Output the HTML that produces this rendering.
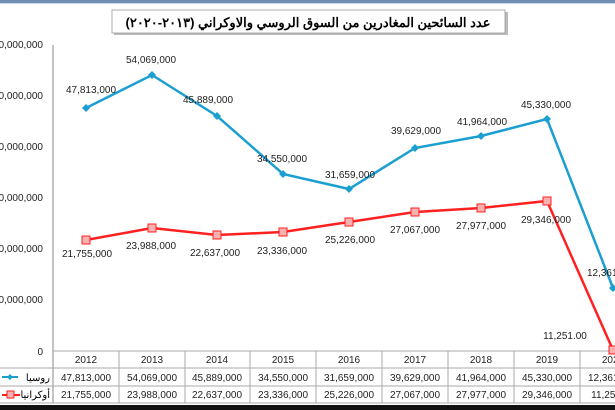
<!DOCTYPE html>
<html><head><meta charset="utf-8"><style>
body{margin:0;background:#fff}
svg{display:block;font-family:"Liberation Sans","Noto Sans CJK SC",sans-serif}
</style></head><body>
<svg width="615" height="410" viewBox="0 0 615 410" xmlns="http://www.w3.org/2000/svg">
<rect width="615" height="410" fill="#fff"/>
<rect x="0" y="0" width="615" height="3" fill="#6f8fb0"/>
<rect x="0" y="3" width="615" height="1" fill="#c8d6e6"/>
<rect x="114" y="12" width="394" height="23" fill="#bbb"/>
<rect x="112" y="10" width="393" height="23" fill="#fff" stroke="#999" stroke-width="0.8"/>
<text x="308" y="27" font-size="13" font-weight="bold" text-anchor="middle" direction="rtl">عدد السائحين المغادرين من السوق الروسي والاوكراني (٢٠١٣-٢٠٢٠)</text>
<g font-size="10" fill="#222" text-anchor="end">
<text x="43" y="48">60,000,000</text>
<text x="43" y="99">50,000,000</text>
<text x="43" y="150">40,000,000</text>
<text x="43" y="201">30,000,000</text>
<text x="43" y="252">20,000,000</text>
<text x="43" y="303">10,000,000</text>
<text x="43" y="355">0</text>
</g>
<line x1="53" y1="45" x2="53" y2="403" stroke="#888" stroke-width="1"/>
<g stroke="#aaa" stroke-width="1">
<line x1="53" y1="351" x2="615" y2="351"/>
<line x1="0" y1="368" x2="615" y2="368"/>
<line x1="0" y1="386" x2="615" y2="386"/>
<line x1="0" y1="403" x2="615" y2="403"/>
<line x1="119" y1="351" x2="119" y2="403"/><line x1="185" y1="351" x2="185" y2="403"/>
<line x1="250" y1="351" x2="250" y2="403"/><line x1="316" y1="351" x2="316" y2="403"/>
<line x1="382" y1="351" x2="382" y2="403"/><line x1="448" y1="351" x2="448" y2="403"/>
<line x1="514" y1="351" x2="514" y2="403"/><line x1="580" y1="351" x2="580" y2="403"/>
</g>
<rect x="0" y="405" width="615" height="5" fill="#111"/>
<g font-size="10" fill="#222" text-anchor="middle">
<text x="86" y="363">2012</text><text x="152" y="363">2013</text><text x="217" y="363">2014</text><text x="283" y="363">2015</text><text x="349" y="363">2016</text><text x="415" y="363">2017</text><text x="481" y="363">2018</text><text x="547" y="363">2019</text><text x="613" y="363">2020</text>
<text x="86" y="381">47,813,000</text><text x="152" y="381">54,069,000</text><text x="217" y="381">45,889,000</text><text x="283" y="381">34,550,000</text><text x="349" y="381">31,659,000</text><text x="415" y="381">39,629,000</text><text x="481" y="381">41,964,000</text><text x="547" y="381">45,330,000</text><text x="613" y="381">12,361,000</text>
<text x="86" y="398">21,755,000</text><text x="152" y="398">23,988,000</text><text x="217" y="398">22,637,000</text><text x="283" y="398">23,336,000</text><text x="349" y="398">25,226,000</text><text x="415" y="398">27,067,000</text><text x="481" y="398">27,977,000</text><text x="547" y="398">29,346,000</text><text x="613" y="398">11,251.00</text>
</g>
<line x1="2" y1="377" x2="18" y2="377" stroke="#1a9fd0" stroke-width="2"/>
<polygon points="10,374 13,377 10,380 7,377" fill="#1a9fd0"/>
<text x="50" y="381" font-size="10" text-anchor="start" direction="rtl">روسيا</text>
<line x1="2" y1="395" x2="20" y2="395" stroke="#ff2020" stroke-width="2"/>
<rect x="7" y="391" width="7" height="7" fill="#f9b0b0" stroke="#ff2020"/>
<text x="50" y="398" font-size="10" text-anchor="start" direction="rtl">أوكرانيا</text>
<polyline fill="none" stroke="#1a9fd0" stroke-width="2.5" points="86,108 152,75 217,116 283,174 349,189 415,148 481,136 547,119 613,288"/>
<g fill="#1a9fd0">
<polygon points="86,104 90,108 86,112 82,108"/><polygon points="152,71 156,75 152,79 148,75"/><polygon points="217,112 221,116 217,120 213,116"/><polygon points="283,170 287,174 283,178 279,174"/><polygon points="349,185 353,189 349,193 345,189"/><polygon points="415,144 419,148 415,152 411,148"/><polygon points="481,132 485,136 481,140 477,136"/><polygon points="547,115 551,119 547,123 543,119"/><polygon points="613,284 617,288 613,292 609,288"/>
</g>
<polyline fill="none" stroke="#ff2020" stroke-width="2.5" points="86,240 152,228 217,235 283,232 349,222 415,212 481,208 547,201 613,350"/>
<g fill="#f9b0b0" stroke="#ff2020" stroke-width="1">
<rect x="82" y="236" width="8" height="8"/><rect x="148" y="224" width="8" height="8"/><rect x="213" y="231" width="8" height="8"/><rect x="279" y="228" width="8" height="8"/><rect x="345" y="218" width="8" height="8"/><rect x="411" y="208" width="8" height="8"/><rect x="477" y="204" width="8" height="8"/><rect x="543" y="197" width="8" height="8"/><rect x="609" y="346" width="8" height="8"/>
</g>
<g font-size="10" fill="#222" text-anchor="middle">
<text x="91" y="93">47,813,000</text><text x="151" y="63">54,069,000</text><text x="208" y="103">45,889,000</text><text x="282" y="162">34,550,000</text><text x="350" y="178">31,659,000</text><text x="416" y="134">39,629,000</text><text x="482" y="125">41,964,000</text><text x="546" y="108">45,330,000</text><text x="612" y="276">12,361,000</text>
<text x="87" y="257">21,755,000</text><text x="151" y="249">23,988,000</text><text x="215" y="256">22,637,000</text><text x="282" y="254">23,336,000</text><text x="350" y="243">25,226,000</text><text x="415" y="233">27,067,000</text><text x="481" y="229">27,977,000</text><text x="546" y="223">29,346,000</text><text x="565" y="339">11,251.00</text>
</g>
</svg>
</body></html>
